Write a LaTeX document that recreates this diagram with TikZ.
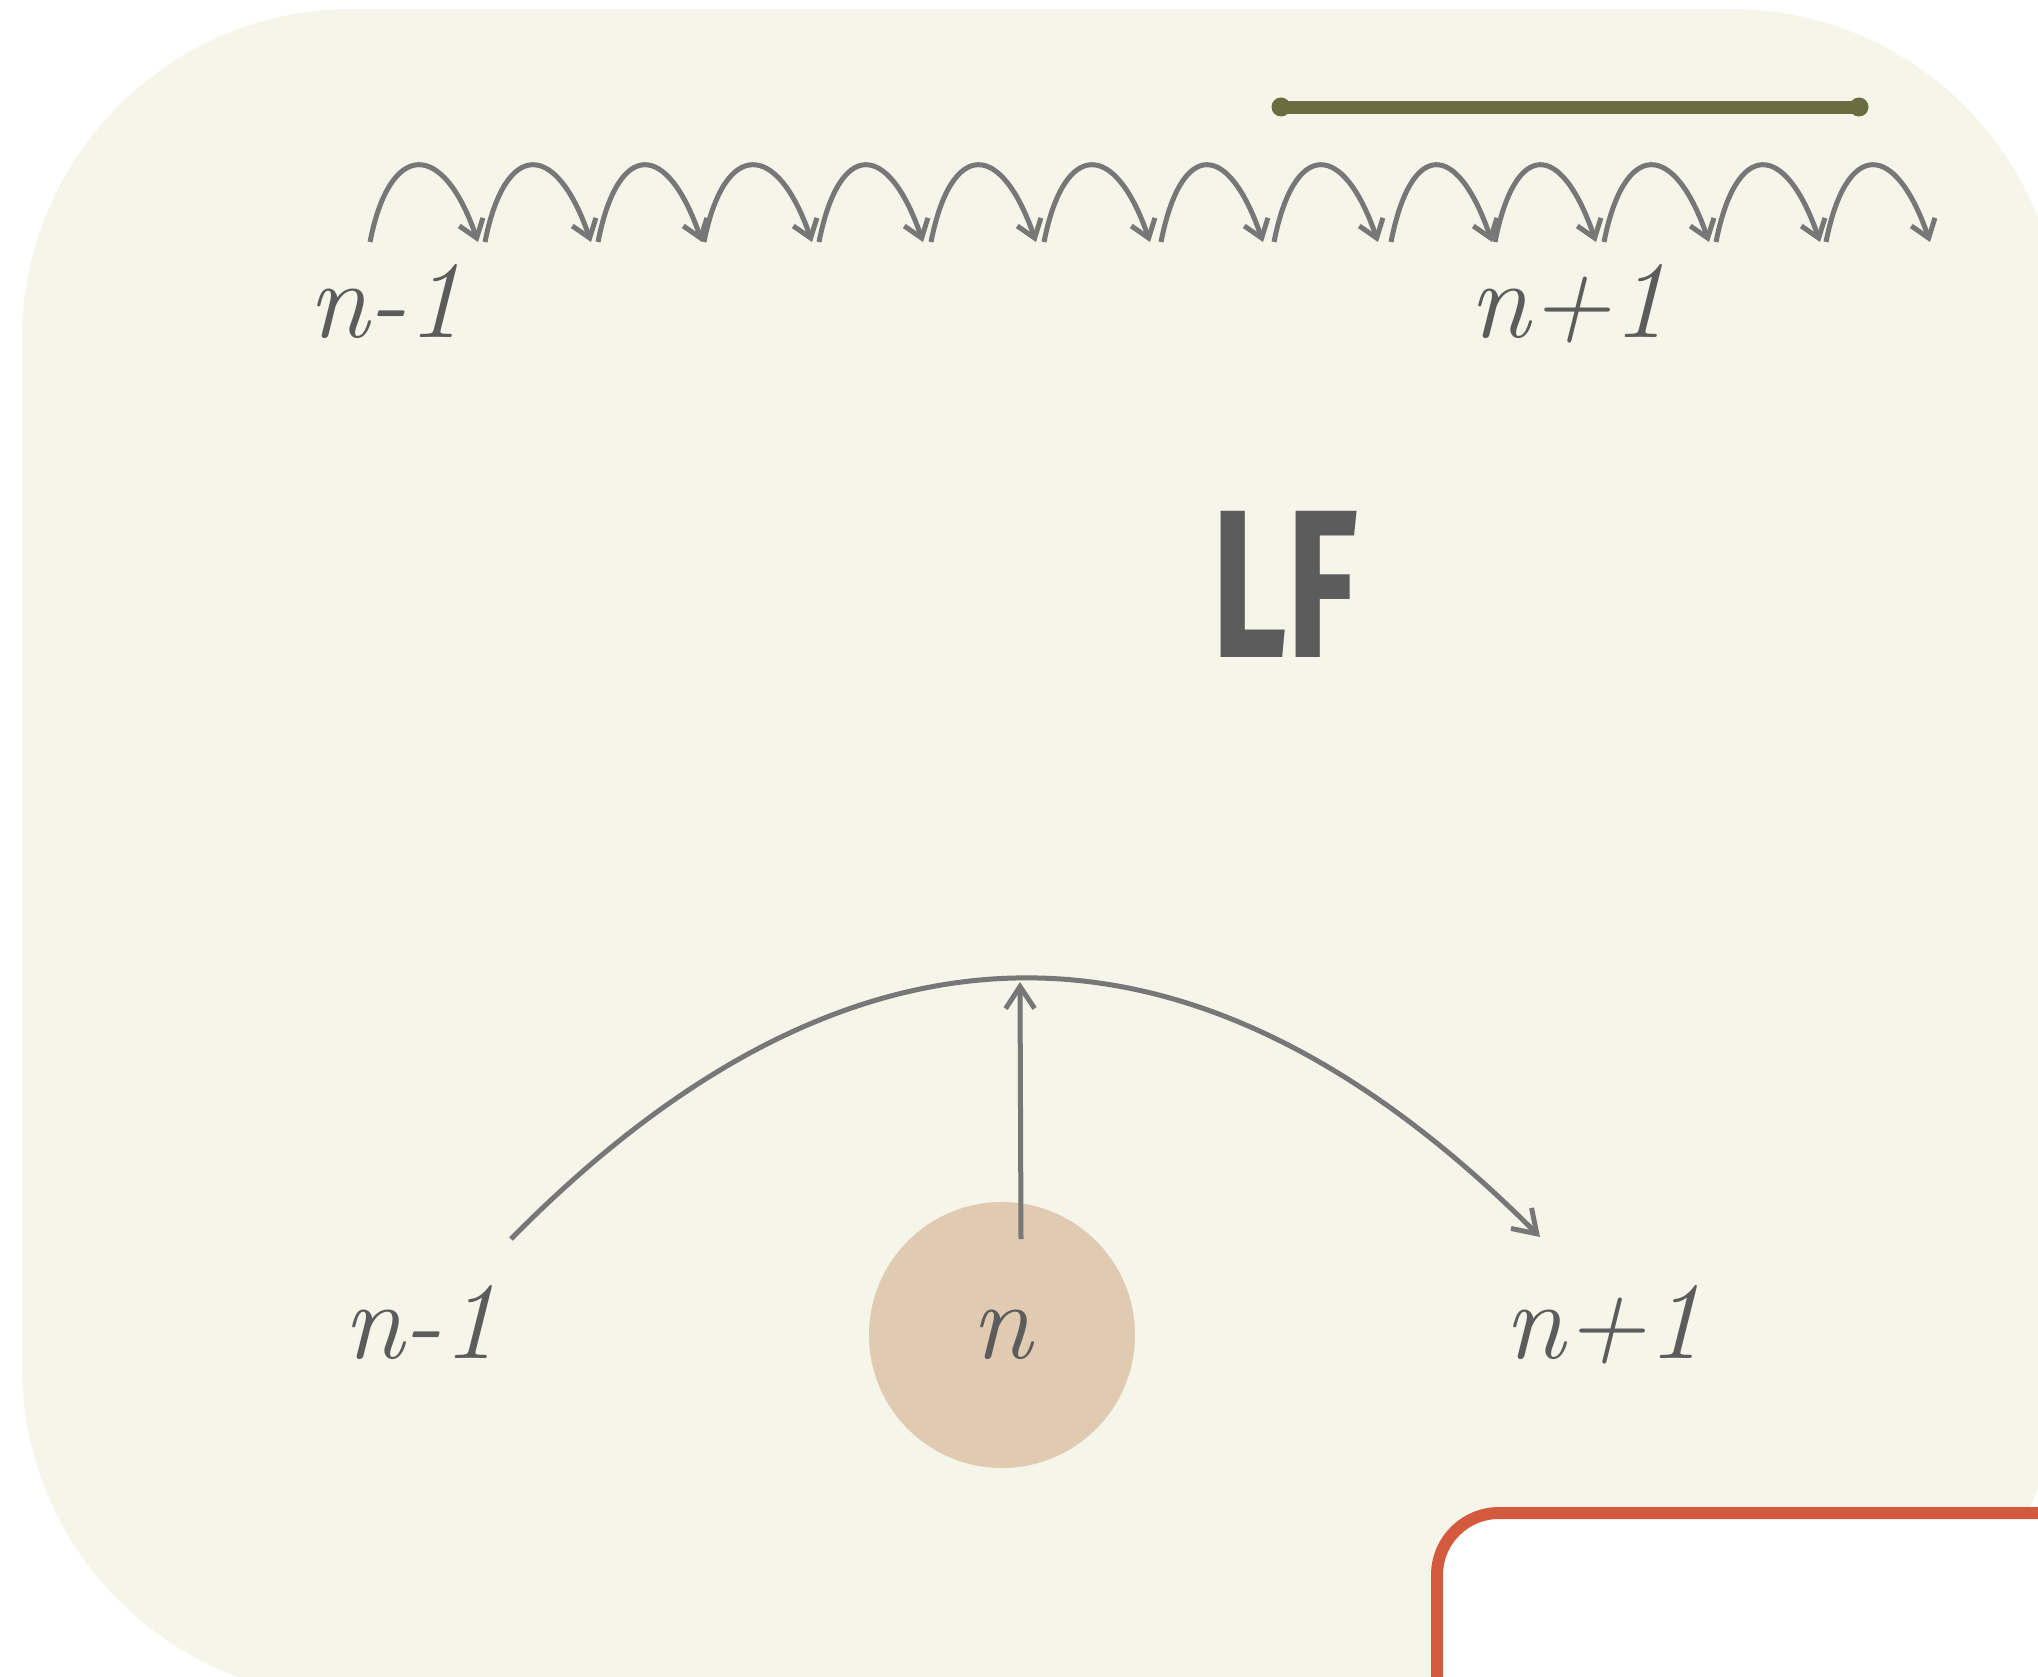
\documentclass[tikz,border=0pt]{standalone}
\usepackage{fontspec}
\newfontfamily\lffont{Fira Sans}
\usetikzlibrary{arrows.meta}
\definecolor{bgc}{HTML}{F5F5E9}
\definecolor{tanc}{HTML}{E0CBB2}
\definecolor{txtc}{HTML}{5C5C5C}
\definecolor{arrc}{HTML}{777777}
\definecolor{olivec}{HTML}{6B6D40}
\definecolor{redc}{HTML}{D35A3D}
\begin{document}
\begin{tikzpicture}[x=1pt,y=-1pt,
  lbl/.style={text=txtc, font=\fontsize{110}{130}\selectfont\itshape, inner sep=0pt, anchor=base},
  hop/.style={draw=arrc, line width=5pt, -{Straight Barb[length=17pt,width=25pt]}},
  link/.style={draw=arrc, line width=5pt, -{Straight Barb[length=22pt,width=29pt]}}]
\useasboundingbox (0,0) rectangle (2038,1677);
\clip (0,0) rectangle (2038,1677);
\fill[bgc, rounded corners=330pt] (22,9) rectangle (2061,1697);
% white panel with red border
\fill[white, rounded corners=62pt] (1437,1513) rectangle (2100,1750);
\draw[redc, line width=12pt, rounded corners=62pt] (1437,1750) -- (1437,1513) -- (2100,1513);
% olive bar
\draw[olivec, line width=13pt, line cap=round] (1280,108) -- (1860,108);
\fill[olivec] (1281,107) circle (9.5pt) (1859,107) circle (9.5pt);
% hops
\foreach \s/\e [count=\i] in {370/478, 485/591, 598/702, 704/812, 819/923, 931/1036, 1044/1150, 1161/1263, 1274/1378, 1391/1492, 1495/1596, 1604/1709, 1716/1820, 1826/1930} {
  \coordinate (hs\i) at (\s,242);
  \coordinate (he\i) at (\e,242);
  \draw[hop] (hs\i) .. controls +(20,-102) and +(-35,-102) .. (he\i);
}
% labels
\node[lbl] (um1) at (385,338) {n-1};
\node[lbl] (up1) at (1568,338) {n+1};
\node[lbl] (lm1) at (420,1358) {n-1};
\node[lbl] (lp1) at (1603,1358) {n+1};
\node[circle, fill=tanc, minimum size=266pt, inner sep=0pt, text=txtc,
      font=\fontsize{110}{130}\selectfont\itshape] (cn) at (1002,1335) {n};
\node[text=txtc, font=\lffont\bfseries\fontsize{211}{230}\selectfont, xscale=0.70, inner sep=0pt] (lf) at (1285,584) {LF};
% connectors
\coordinate (aL) at (511,1239);
\coordinate (aR) at (1540,1237);
\draw[link] (aL) .. controls (853,892) and (1196,892) .. (aR);
\coordinate (vB) at (1021,1239);
\coordinate (vT) at (1020,982);
\draw[link] (vB) -- (vT);
\end{tikzpicture}
\end{document}
